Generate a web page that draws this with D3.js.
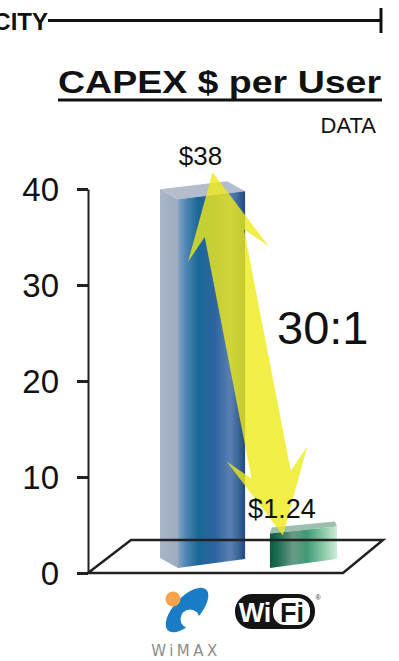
<!DOCTYPE html>
<html><head><meta charset="utf-8">
<script src="https://cdn.jsdelivr.net/npm/d3@7"></script>
<style>html,body{margin:0;padding:0;background:#fff;} svg{display:block;}</style>
</head><body>
<script>
// ---- data ----
const categories = ["WiMAX", "Wi-Fi"];
const barValues = [38.4, 3.6];          // bar heights as drawn on the axis
const valueLabels = ["$38", "$1.24"];   // printed value labels
const yTicks = [0, 10, 20, 30, 40];
const ratioLabel = "30:1";
const titleText = "CAPEX $ per User";
const subtitleText = "DATA";
const headerText = "CITY";

const W = 399, H = 661;
const svg = d3.select("body").append("svg").attr("width", W).attr("height", H);
const defs = svg.append("defs");

const y = d3.scaleLinear().domain([0, 40]).range([573, 189]);
const x = d3.scaleBand().domain(categories).range([178, 337]).paddingInner(0.27).paddingOuter(0);
const bw = x.bandwidth();

// gradients
function grad(id, stops) {
  const g = defs.append("linearGradient").attr("id", id).attr("x1", "0%").attr("x2", "100%").attr("y1", "0%").attr("y2", "0%");
  stops.forEach(([o, c]) => g.append("stop").attr("offset", o).attr("stop-color", c));
}
grad("gWimax", [[0, "#86a3c4"], [0.12, "#4f86b4"], [0.3, "#1a6898"], [0.55, "#2d64a0"], [0.78, "#5a80b3"], [0.9, "#3c6698"], [1, "#1c4980"]]);
grad("gWimaxSide", [[0, "#a9b5c8"], [1, "#9eacc2"]]);
grad("gWifi", [[0, "#0a5a42"], [0.12, "#1f6e54"], [0.35, "#6b9a88"], [0.55, "#3f9a74"], [0.8, "#8ccaa8"], [1, "#cdeed8"]]);

// ---- header ----
svg.append("text").attr("x", 48).attr("y", 30).attr("text-anchor", "end")
  .attr("font-family", "Liberation Sans, Arial, sans-serif").attr("font-weight", "bold")
  .attr("font-size", 24).attr("fill", "#111").text(headerText);
svg.append("line").attr("x1", 48).attr("x2", 381).attr("y1", 20.5).attr("y2", 20.5)
  .attr("stroke", "#111").attr("stroke-width", 3);
svg.append("line").attr("x1", 381).attr("x2", 381).attr("y1", 8).attr("y2", 33)
  .attr("stroke", "#111").attr("stroke-width", 3);

// ---- title ----
svg.append("text").attr("x", 58).attr("y", 93)
  .attr("font-family", "Liberation Sans, Arial, sans-serif").attr("font-weight", "bold")
  .attr("font-size", 32).attr("fill", "#111")
  .attr("textLength", 323).attr("lengthAdjust", "spacingAndGlyphs").text(titleText);
svg.append("line").attr("x1", 58).attr("x2", 382).attr("y1", 100).attr("y2", 100)
  .attr("stroke", "#111").attr("stroke-width", 3);
svg.append("text").attr("x", 376).attr("y", 133).attr("text-anchor", "end")
  .attr("font-family", "Liberation Sans, Arial, sans-serif")
  .attr("font-size", 22).attr("fill", "#111").text(subtitleText);

// ---- axis ----
const axis = d3.axisLeft(y).tickValues(yTicks).tickSize(11).tickSizeOuter(0).tickPadding(18);
const ag = svg.append("g").attr("transform", "translate(88,0)").call(axis);
ag.select(".domain").attr("stroke", "#222").attr("stroke-width", 2);
ag.selectAll(".tick line").attr("stroke", "#222").attr("stroke-width", 3);
ag.selectAll(".tick text").attr("font-family", "Liberation Sans, Arial, sans-serif")
  .attr("font-size", 33).attr("fill", "#111").attr("dy", "0.36em");

// ---- bars (pseudo 3D) ----
const baseOff = 5, slant = 9;
const bars = svg.append("g");
categories.forEach((c, i) => {
  const x0 = x(c), x1 = x0 + bw;
  const bl = y(0) - baseOff, br = bl - slant;
  const tl = y(barValues[i]) - baseOff, tr = tl - (i === 0 ? 8 : 7);
  if (i === 0) {
    const dx = -18, dy = -10;
    bars.append("polygon").attr("points", [[x0 + dx, tl + dy], [x0, tl], [x0, bl], [x0 + dx, bl + dy]].join(" "))
      .attr("fill", "url(#gWimaxSide)");
    bars.append("polygon").attr("points", [[x0 + dx, tl + dy], [x0, tl], [x1, tr], [x1 + dx, tr + dy]].join(" "))
      .attr("fill", "#b3bdcb");
    bars.append("polygon").attr("points", [[x0, tl], [x1, tr], [x1, br], [x0, bl]].join(" "))
      .attr("fill", "url(#gWimax)");
  } else {
    bars.append("polygon").attr("points", [[x0, tl], [x1, tr], [x1 - 2, tr - 5], [x0 + 2, tl - 6]].join(" "))
      .attr("fill", "#9cc0b0");
    bars.append("polygon").attr("points", [[x0, tl], [x1, tr], [x1, br], [x0, bl]].join(" "))
      .attr("fill", "url(#gWifi)");
  }
});

// ---- floor ----
svg.append("polygon")
  .attr("points", [[88, y(0)], [343, y(0)], [383, y(0) - 33], [131, y(0) - 33]].join(" "))
  .attr("fill", "none").attr("stroke", "#222").attr("stroke-width", 2.5).attr("stroke-linejoin", "miter");

// ---- double arrow ----
const T1 = [x(categories[0]) + bw / 2 + 1, y(barValues[0]) - baseOff - 27];
const T2 = [x(categories[1]) + 13, y(barValues[1]) - baseOff + 2];
const L = Math.hypot(T2[0] - T1[0], T2[1] - T1[1]);
const u = [(T2[0] - T1[0]) / L, (T2[1] - T1[1]) / L];
const v = [u[1], -u[0]];
const local = [[0, 0], [83, 41], [62, 20], [L - 62, 20], [L - 83, 41], [L, 0], [L - 83, -41], [L - 62, -20], [62, -20], [83, -41]];
const pts = local.map(([t, s]) => [T1[0] + t * u[0] + s * v[0], T1[1] + t * u[1] + s * v[1]]);
svg.append("polygon").attr("points", pts.join(" ")).attr("fill", "#eeea1a").attr("fill-opacity", 0.8);

// ---- value labels ----
const lab = svg.append("g").attr("font-family", "Liberation Sans, Arial, sans-serif").attr("fill", "#111");
lab.append("text").attr("x", x(categories[0]) + bw / 2 - 11).attr("y", y(barValues[0]) - baseOff - 34)
  .attr("text-anchor", "middle").attr("font-size", 26).text(valueLabels[0]);
lab.append("text").attr("x", x(categories[1]) + 12).attr("y", y(barValues[1]) - baseOff - 15)
  .attr("text-anchor", "middle").attr("font-size", 27).text(valueLabels[1]);
lab.append("text").attr("x", 277).attr("y", 344).attr("font-size", 47).text(ratioLabel);

// ---- category logos ----
const wm = svg.append("g");
wm.append("ellipse").attr("cx", 0).attr("cy", 0).attr("rx", 28).attr("ry", 13)
  .attr("transform", "translate(187,610) rotate(-47)").attr("fill", "#1a7cc4");
wm.append("circle").attr("cx", 190).attr("cy", 619).attr("r", 9.5).attr("fill", "#fff");
wm.append("circle").attr("cx", 173).attr("cy", 599).attr("r", 7.5).attr("fill", "#f6a34c");
wm.append("text").attr("x", 186).attr("y", 656).attr("text-anchor", "middle")
  .attr("font-family", "DejaVu Sans, sans-serif").attr("font-size", 15).attr("letter-spacing", 3.5)
  .attr("fill", "#8c8c8c").text(categories[0]);

const wf = svg.append("g");
wf.append("rect").attr("x", 235).attr("y", 594).attr("width", 80).attr("height", 35).attr("rx", 17).attr("fill", "#141414");
wf.append("rect").attr("x", 273).attr("y", 598).attr("width", 37).attr("height", 27).attr("rx", 12).attr("fill", "#fff");
wf.append("text").attr("x", 255).attr("y", 622).attr("text-anchor", "middle")
  .attr("font-family", "Liberation Sans, Arial, sans-serif").attr("font-weight", "bold").attr("font-size", 27)
  .attr("fill", "#fff").text("Wi");
wf.append("text").attr("x", 292).attr("y", 622).attr("text-anchor", "middle")
  .attr("font-family", "Liberation Sans, Arial, sans-serif").attr("font-weight", "bold").attr("font-size", 27)
  .attr("fill", "#141414").text("Fi");
wf.append("text").attr("x", 318).attr("y", 600).attr("text-anchor", "middle")
  .attr("font-family", "Liberation Sans, Arial, sans-serif").attr("font-size", 7).attr("fill", "#333").text("®");
</script>
</body></html>
